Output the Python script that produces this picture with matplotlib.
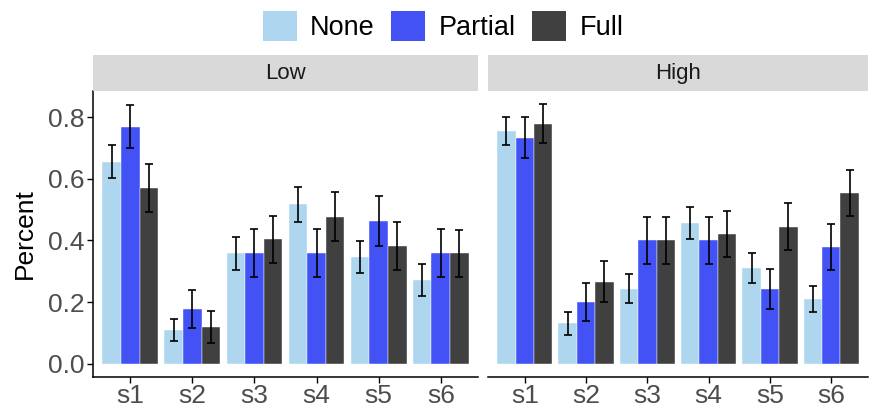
import numpy as np
import matplotlib
matplotlib.use("Agg")
import matplotlib.pyplot as plt
from matplotlib.patches import Patch, Rectangle

plt.rcParams['font.family'] = ['Liberation Sans', 'DejaVu Sans']

sites = ["s1", "s2", "s3", "s4", "s5", "s6"]
groups = ["None", "Partial", "Full"]
panels = ["Low", "High"]
colors = ["#AED6EE", "#4352F5", "#404040"]

# mean percent per site, one list per group
low_none = [0.656, 0.109, 0.358, 0.518, 0.346, 0.272]
low_partial = [0.769, 0.177, 0.358, 0.358, 0.462, 0.358]
low_full = [0.571, 0.119, 0.404, 0.477, 0.382, 0.358]
high_none = [0.756, 0.131, 0.244, 0.457, 0.310, 0.210]
high_partial = [0.734, 0.200, 0.400, 0.400, 0.244, 0.378]
high_full = [0.779, 0.266, 0.400, 0.421, 0.445, 0.555]

# standard errors
low_none_se = [0.054, 0.035, 0.054, 0.057, 0.053, 0.051]
low_partial_se = [0.069, 0.062, 0.078, 0.078, 0.081, 0.078]
low_full_se = [0.077, 0.051, 0.077, 0.079, 0.077, 0.076]
high_none_se = [0.046, 0.037, 0.046, 0.053, 0.049, 0.043]
high_partial_se = [0.067, 0.061, 0.075, 0.075, 0.065, 0.074]
high_full_se = [0.063, 0.067, 0.075, 0.075, 0.076, 0.075]

data = {
    "Low": ([low_none, low_partial, low_full], [low_none_se, low_partial_se, low_full_se]),
    "High": ([high_none, high_partial, high_full], [high_none_se, high_partial_se, high_full_se]),
}

fig = plt.figure(figsize=(8.7, 4.11), dpi=100)
W, H = 870, 411
panel_x = [(93, 478), (488, 868)]
bot, top = 377, 91
strip_top = 55

x = np.arange(1, len(sites) + 1)
bw = 0.3
tick_col = "#4D4D4D"

for i, name in enumerate(panels):
    x0, x1 = panel_x[i]
    ax = fig.add_axes([x0 / W, 1 - bot / H, (x1 - x0) / W, (bot - top) / H])
    means, ses = data[name]
    for j in range(3):
        xs = x + (j - 1) * bw
        ax.bar(xs, means[j], width=bw, color=colors[j], edgecolor="white", linewidth=0.3, zorder=2)
        ax.errorbar(xs, means[j], yerr=ses[j], fmt="none", ecolor="black",
                    elinewidth=1.2, capsize=3, capthick=1.2, zorder=3)
    ax.set_xlim(0.4, 6.6)
    ax.set_ylim(-0.043, 0.885)
    ax.set_xticks(x)
    ax.set_xticklabels(sites)
    for s in ["top", "right"]:
        ax.spines[s].set_visible(False)
    ax.spines["bottom"].set_linewidth(1.1)
    ax.spines["left"].set_linewidth(1.1)
    ax.tick_params(axis="x", length=4, width=1, colors="black", labelcolor=tick_col, labelsize=19, pad=1)
    if i == 0:
        ax.set_yticks([0, 0.2, 0.4, 0.6, 0.8])
        ax.set_yticklabels(["0.0", "0.2", "0.4", "0.6", "0.8"])
        ax.tick_params(axis="y", length=4, width=1, colors="black", labelcolor=tick_col, labelsize=19, pad=2)
        ax.set_ylabel("Percent", fontsize=19, labelpad=8)
    else:
        ax.spines["left"].set_visible(False)
        ax.set_yticks([])
    # facet strip
    sax = fig.add_axes([x0 / W, 1 - top / H, (x1 - x0) / W, (top - strip_top) / H])
    sax.add_patch(Rectangle((0, 0), 1, 1, color="#D9D9D9", transform=sax.transAxes))
    sax.text(0.5, 0.5, name, ha="center", va="center", fontsize=16, color="#1A1A1A")
    sax.axis("off")

handles = [Patch(facecolor=c, edgecolor="none") for c in colors]
fig.legend(handles, groups, loc="center", bbox_to_anchor=(443 / W, 1 - 26 / H), ncol=3,
           frameon=False, fontsize=19.5, handlelength=1.25, handleheight=1.3,
           handletextpad=0.5, columnspacing=0.6, borderpad=0)

fig.savefig("out.png", dpi=100)
